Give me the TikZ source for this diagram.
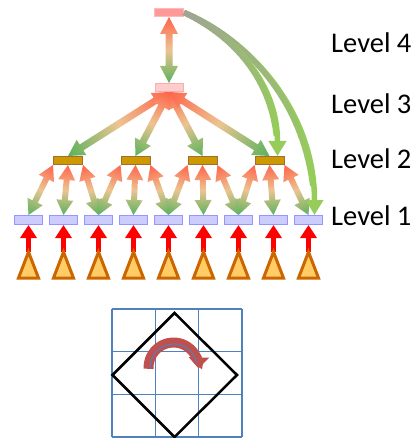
\documentclass[tikz,border=0pt]{standalone}
\usepackage{fontspec}
\setmainfont{Carlito}
\usetikzlibrary{arrows.meta,calc}
\pgfdeclarelayer{back}
\pgfsetlayers{back,main}

\definecolor{upred}{RGB}{255,100,75}
\definecolor{midtan}{RGB}{236,196,145}
\definecolor{downgreen}{RGB}{88,178,92}
\definecolor{lonefill}{RGB}{204,204,255}
\definecolor{loneedge}{RGB}{150,150,255}
\definecolor{ltwofill}{RGB}{204,153,0}
\definecolor{ltwoedge}{RGB}{160,110,50}
\definecolor{lthreefill}{RGB}{255,204,204}
\definecolor{lthreeedge}{RGB}{245,175,175}
\definecolor{lfourfill}{RGB}{255,153,153}
\definecolor{lfouredge}{RGB}{255,185,185}
\definecolor{trifill}{RGB}{255,204,102}
\definecolor{triedge}{RGB}{204,102,0}
\definecolor{curvegray}{RGB}{160,164,150}
\definecolor{curvegreen}{RGB}{150,205,90}
\definecolor{gridblue}{RGB}{79,129,189}
\definecolor{turnred}{RGB}{192,80,77}

\tikzset{
  lonebox/.style={draw=loneedge, fill=lonefill, line width=1pt,
    minimum width=28pt, minimum height=9pt, inner sep=0pt},
  ltwobox/.style={draw=ltwoedge, fill=ltwofill, line width=1pt,
    minimum width=29pt, minimum height=8pt, inner sep=0pt},
  lthreebox/.style={draw=lthreeedge, fill=lthreefill, line width=1pt,
    minimum width=28pt, minimum height=8pt, inner sep=0pt},
  lfourbox/.style={draw=lfouredge, fill=lfourfill, line width=1pt,
    minimum width=29pt, minimum height=8pt, inner sep=0pt},
  lvl/.style={font=\fontsize{28.5}{30}\selectfont, inner sep=0pt, anchor=base west},
  inputtri/.style={draw=triedge, fill=trifill, line width=3pt, line join=miter},
  feedarrow/.style={draw=red, line width=5pt, -{Triangle[length=13pt,width=16pt]}},
  skiparrow/.style={line width=5.5pt, -{Triangle[length=15pt,width=17pt]}},
}

% double-headed arrow, shaded red -> tan -> green from #1 to #2
% #3 half shaft width, #4 head length, #5 half head width
\newcommand\duoarrow[5]{%
  \path (#1) coordinate (daS);
  \path (#2) coordinate (daT);
  \pgfpointanchor{daS}{center}\pgfgetlastxy{\daX}{\daY}%
  \pgfpointanchor{daT}{center}\pgfgetlastxy{\daXt}{\daYt}%
  \pgfmathsetmacro\daL{veclen(\daXt-(\daX),\daYt-(\daY))}%
  \pgfmathsetmacro\daA{atan2(\daYt-(\daY),\daXt-(\daX))}%
  \begin{scope}[transform canvas={shift={(\daX,\daY)},rotate=\daA}]
    \shade[left color=upred, right color=downgreen, middle color=midtan]
      (0,0) -- (#4,#5) -- (#4,#3) -- ({\daL-#4},#3) -- ({\daL-#4},#5)
      -- (\daL,0) -- ({\daL-#4},-#5) -- ({\daL-#4},-#3) -- (#4,-#3)
      -- (#4,-#5) -- cycle;
  \end{scope}
}

% curved link fading from gray to green, #3 and #4 relative control points
\newcommand\fadecurve[4]{%
  \draw[skiparrow, curvegreen] (#1) .. controls +#3 and +#4 .. (#2);
  \foreach \i in {0,...,35}{
    \pgfmathsetmacro\ta{0.025*\i}
    \pgfmathsetmacro\tb{0.025*(\i+1)+0.004}
    \pgfmathtruncatemacro\mix{100*\i/35}
    \path (#1) .. controls +#3 and +#4 .. (#2)
      coordinate[pos=\ta] (fa) coordinate[pos=\tb] (fb);
    \draw[line width=5.5pt, curvegreen!\mix!curvegray] (fa) -- (fb);
  }
}

\begin{document}
\begin{tikzpicture}[x=1pt, y=-1pt]
\useasboundingbox (0,0) rectangle (418,438);

% boxes of the four levels
\node[lfourbox] (l4) at (169,12.5) {};
\node[lthreebox] (l3) at (169,87.5) {};
\foreach \n/\x in {a/68,b/135.5,c/202.5,d/269.5}
  \node[ltwobox] (l2\n) at (\x,160.5) {};
\foreach \n/\x in {a/28.5,b/63.5,c/98.5,d/133.5,e/168.5,f/203.5,g/238.5,h/273.5,i/308.5}
  \node[lonebox] (l1\n) at (\x,220) {};

% level labels
\node[lvl] (lab4) at (331,52.3) {Level 4};
\node[lvl] (lab3) at (331,113.3) {Level 3};
\node[lvl] (lab2) at (331,168.3) {Level 2};
\node[lvl] (lab1) at (331,225) {Level 1};

\begin{pgfonlayer}{back}
  \duoarrow{l4.south}{l3.north}{3.5}{17}{9}
  \duoarrow{l3.south}{l2a.north}{3.5}{16}{9}
  \duoarrow{l3.south}{l2b.north}{3.5}{16}{9}
  \duoarrow{l3.south}{l2c.north}{3.5}{16}{9}
  \duoarrow{l3.south}{l2d.north}{3.5}{16}{9}
  \duoarrow{l2a.south west}{l1a.north}{3}{15}{8.5}
  \duoarrow{l2a.south}{l1b.north}{3}{15}{8.5}
  \duoarrow{l2a.south east}{l1c.north}{3}{15}{8.5}
  \duoarrow{l2b.south west}{l1c.north}{3}{15}{8.5}
  \duoarrow{l2b.south}{l1d.north}{3}{15}{8.5}
  \duoarrow{l2b.south east}{l1e.north}{3}{15}{8.5}
  \duoarrow{l2c.south west}{l1e.north}{3}{15}{8.5}
  \duoarrow{l2c.south}{l1f.north}{3}{15}{8.5}
  \duoarrow{l2c.south east}{l1g.north}{3}{15}{8.5}
  \duoarrow{l2d.south west}{l1g.north}{3}{15}{8.5}
  \duoarrow{l2d.south}{l1h.north}{3}{15}{8.5}
  \duoarrow{l2d.south east}{l1i.north}{3}{15}{8.5}
\end{pgfonlayer}

% skip links from the top level
\fadecurve{l4.east}{$(l1i.north)+(6,0)$}{(65,27)}{(0,-105)}
\fadecurve{l4.east}{$(l2d.north)+(8,0)$}{(52,25)}{(0,-72)}

% inputs feeding level 1
\foreach \n in {a,b,c,d,e,f,g,h,i}{
  \coordinate (ap\n) at ($(l1\n.south)+(0,27)$);
  \draw[feedarrow] (ap\n) -- (l1\n.south);
  \draw[inputtri] (ap\n) -- ++(10,26) -- ++(-20,0) -- cycle;
}

% rotation sketch: grid, diamond and turn arrow
\foreach \gx in {112,155.3,198.7,242}
  \draw[gridblue, line width=1.3pt] (\gx,309) -- (\gx,437);
\foreach \gy in {309,351.7,394.3,437}
  \draw[gridblue, line width=1.3pt] (112,\gy) -- (242,\gy);
\draw[black, line width=2.5pt, line join=miter]
  (174.5,313) -- (237,375) -- (174.5,437) -- (112.5,375) -- cycle;
\draw[turnred, line width=10pt, -{Triangle[length=11pt,width=20pt]}]
  (173.5,367.5) ++(177:25) arc[start angle=177, end angle=362, radius=25];
\draw[gridblue, line width=1pt]
  (173.5,367.5) ++(180:23.5) arc[start angle=180, end angle=350, radius=23.5];
\end{tikzpicture}
\end{document}
